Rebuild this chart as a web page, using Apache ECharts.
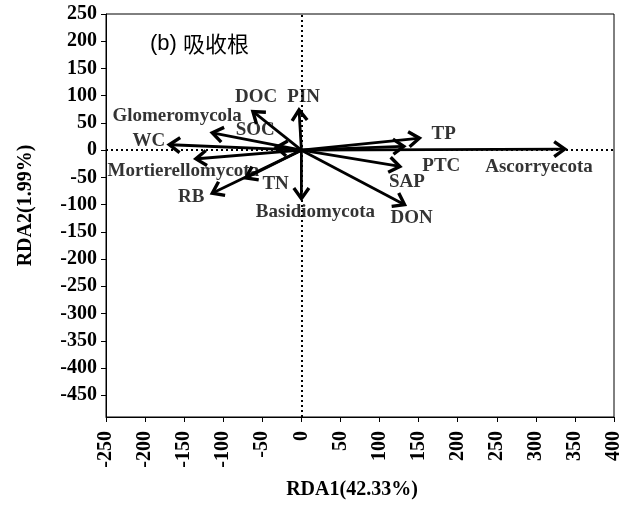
<!DOCTYPE html>
<html>
<head>
<meta charset="utf-8">
<script src="https://cdn.jsdelivr.net/npm/echarts@6/dist/echarts.min.js"></script>
<style>
html,body{margin:0;padding:0;background:#fff;}
#chart{width:632px;height:510px;}
</style>
</head>
<body>
<div id="chart"></div>
<script>
// ---- data ----
const varNames = ['DOC','PIN','Glomeromycola','SOC','WC','Mortierellomycota','TN','RB','Basidiomycota','TP','SAP','PTC','DON','Ascorryecota'];
const rda1 = [-62, -3, -114, -32, -169, -135, -71, -114, 0, 151, 131, 126, 132, 337];
const rda2 = [71, 74, 32, 5, 10, -16, -51, -79, -89, 22, 7, -30, -100, 2];
// label anchor points (data units)
const labelRda1 = [-58, 3, -159, -59, -195, -151, -33, -141, 18, 182, 135, 179, 141, 304];
const labelRda2 = [98, 98, 63, 36, 16, -39, -63, -86, -114, 29, -58, -30, -124, -31];
const xTickLabels = [-250,-200,-150,-100,-50,0,50,100,150,200,250,300,350,400];
const yTickLabels = [-450,-400,-350,-300,-250,-200,-150,-100,-50,0,50,100,150,200,250];
const xName = 'RDA1(42.33%)';
const yName = 'RDA2(1.99%)';
const panelTitle = '(b) ';
const panelTitleCn = '吸收根';

const serif = 'Liberation Serif, Times New Roman, serif';
const arrowData = varNames.map((n, i) => [rda1[i], rda2[i], n]);
const labelData = varNames.map((n, i) => ({value: [labelRda1[i], labelRda2[i]], name: n}));

const chart = echarts.init(document.getElementById('chart'));
chart.setOption({
  animation: false,
  backgroundColor: '#fff',
  grid: {left: 106, right: 18, top: 14, bottom: 93, show: true, borderColor: '#000', borderWidth: 1, containLabel: false},
  graphic: [{
    type: 'text', left: 150, top: 33,
    style: {
      rich: {
        a: {fontFamily: 'Liberation Sans, Arial, sans-serif', fontSize: 22, fill: '#000'},
        b: {fontFamily: 'Noto Sans CJK SC', fontSize: 22, fill: '#000'}
      },
      text: '{a|' + panelTitle + '}{b|' + panelTitleCn + '}'
    }
  }],
  xAxis: {
    type: 'value', min: xTickLabels[0], max: xTickLabels[xTickLabels.length - 1], interval: 50,
    name: xName, nameLocation: 'middle', nameGap: 63,
    nameTextStyle: {fontFamily: serif, fontSize: 20, fontWeight: 'bold', color: '#000', padding: [0, 16, 0, 0]},
    axisLine: {onZero: false, lineStyle: {color: '#000', width: 1}},
    axisTick: {show: true, inside: false, length: 5, lineStyle: {color: '#000'}},
    axisLabel: {rotate: 90, margin: 14, fontFamily: serif, fontSize: 20, fontWeight: 'bold', color: '#000', showMinLabel: true, showMaxLabel: true},
    splitLine: {show: false}
  },
  yAxis: {
    type: 'value', min: -490, max: 250,
    name: yName, nameLocation: 'middle', nameGap: 70, nameRotate: 90,
    nameTextStyle: {fontFamily: serif, fontSize: 20, fontWeight: 'bold', color: '#000', padding: [0, 0, 0, 20]},
    axisLine: {onZero: false, lineStyle: {color: '#000', width: 1}},
    axisTick: {show: true, inside: false, length: 5, lineStyle: {color: '#000'}, customValues: yTickLabels},
    axisLabel: {margin: 9, fontFamily: serif, fontSize: 20, fontWeight: 'bold', color: '#000', customValues: yTickLabels},
    splitLine: {show: false}
  },
  series: [
    {
      type: 'line', data: [], silent: true,
      markLine: {
        silent: true, symbol: ['none', 'none'], label: {show: false},
        lineStyle: {color: '#000', type: [2, 3], width: 2},
        data: [{xAxis: 0}, {yAxis: 0}]
      }
    },
    {
      type: 'custom', data: arrowData, z: 5, silent: true,
      renderItem: function (params, api) {
        const o = api.coord([0, 0]);
        const p = api.coord([api.value(0), api.value(1)]);
        const ang = Math.atan2(p[1] - o[1], p[0] - o[0]);
        const L = 13, a = 0.62;
        const h1 = [p[0] - L * Math.cos(ang - a), p[1] - L * Math.sin(ang - a)];
        const h2 = [p[0] - L * Math.cos(ang + a), p[1] - L * Math.sin(ang + a)];
        return {
          type: 'group',
          children: [
            {type: 'line', shape: {x1: o[0], y1: o[1], x2: p[0] - 1.5 * Math.cos(ang), y2: p[1] - 1.5 * Math.sin(ang)}, style: {stroke: '#000', lineWidth: 2.8}},
            {type: 'polyline', shape: {points: [h1, p, h2]}, style: {stroke: '#000', lineWidth: 3.4, fill: null, lineJoin: 'miter'}}
          ]
        };
      }
    },
    {
      type: 'scatter', data: labelData, symbolSize: 0, z: 6, silent: true,
      label: {
        show: true, position: 'inside', formatter: '{b}',
        fontFamily: serif, fontSize: 19, fontWeight: 'bold', color: '#000'
      }
    }
  ]
});
</script>
</body>
</html>
